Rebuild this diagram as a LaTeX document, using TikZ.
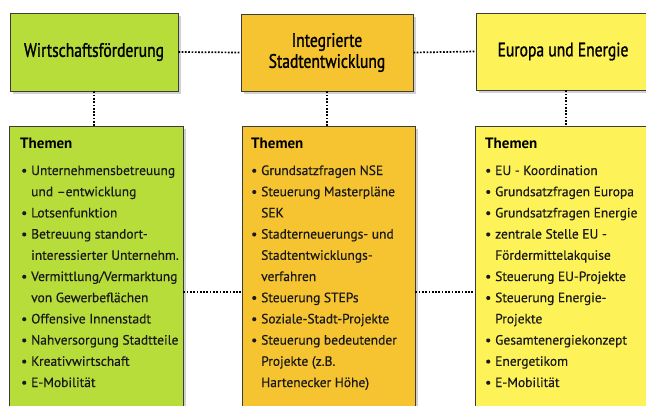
\documentclass[tikz,border=0pt]{standalone}
\usepackage{fontspec}
\setmainfont{PT Sans}
\newfontfamily\titlefont{PT Sans}[FakeStretch=0.8, FakeBold=1.2]
\newfontfamily\itemfont{PT Sans}[FakeBold=0.4]
\usetikzlibrary{shadows}
\definecolor{wfgreen}{RGB}{183,221,58}
\definecolor{isorange}{RGB}{245,196,48}
\definecolor{euyellow}{RGB}{253,243,88}
\definecolor{frame}{RGB}{60,60,60}
% one list entry: bullet plus text, and a continuation line
\newcommand\entry[1]{\makebox[10pt][l]{\textbullet}#1\\}
\newcommand\more[1]{\hspace*{10pt}#1\\}
\tikzset{
  box/.style={draw=frame, line width=0.7pt, inner sep=0pt,
    drop shadow={shadow xshift=2.5pt, shadow yshift=-2.5pt, fill=black!18, opacity=1}},
  headtext/.style={font=\titlefont\fontsize{19.5}{21}\selectfont, align=center, text=black},
  themen/.style={font=\bfseries\fontsize{15}{18}\selectfont, anchor=base west, inner sep=0pt},
  items/.style={font=\itemfont\fontsize{13.5}{21.2}\selectfont, anchor=base west, inner sep=0pt, text=black!90},
  link/.style={line width=1.7pt, dash pattern=on 1.7pt off 1.6pt}
}
\begin{document}
\begin{tikzpicture}[x=1pt,y=-1pt]
\useasboundingbox (0,0) rectangle (646,405);
\clip (0,0) rectangle (646,405);
\fill[white] (0,0) rectangle (646,405);

% head boxes
\node[box, fill=wfgreen, minimum width=168pt, minimum height=78pt] (t1) at (94,52) {};
\node[box, fill=isorange, minimum width=172pt, minimum height=77pt] (t2) at (327,52.5) {};
\node[box, fill=euyellow, minimum width=180pt, minimum height=77pt] (t3) at (566,51.5) {};
\node[headtext] (h1) at (t1) {Wirtschaftsförderung};
\node[headtext] (h2) at (t2) {Integrierte\\Stadtentwicklung};
\node[headtext, xshift=-3pt] (h3) at (t3) {Europa und Energie};

% theme boxes
\node[box, fill=wfgreen, minimum width=174pt, minimum height=299pt] (l1) at (96,275.5) {};
\node[box, fill=isorange, minimum width=173pt, minimum height=299pt] (l2) at (328.5,275.5) {};
\node[box, fill=euyellow, minimum width=185pt, minimum height=299pt] (l3) at (567.5,275.5) {};

% dotted links
\draw[link] (t1.east) -- (t2.west);
\draw[link] (t2.east) -- (t3.west);
\draw[link] (t1.south) -- (t1.south |- l1.north);
\draw[link] (t2.south) -- (t2.south |- l2.north);
\draw[link] (t3.south) -- (t3.south |- l3.north);
\draw[link] ([yshift=-16.5pt]l1.east) -- ([yshift=-16.5pt]l2.west);
\draw[link] ([yshift=-16.5pt]l2.east) -- ([yshift=-16.5pt]l3.west);

% theme lists
\node[themen] (th1) at (20,148) {Themen};
\node[themen] (th2) at (251,148) {Themen};
\node[themen] (th3) at (485,148) {Themen};

\node[items] (i1) at (21,175) {\begin{tabular}[t]{@{}l@{}}
\entry{Unternehmensbetreuung}
\more{und –entwicklung}
\entry{Lotsenfunktion}
\entry{Betreuung standort-}
\more{interessierter Unternehm.}
\entry{Vermittlung/Vermarktung}
\more{von Gewerbeflächen}
\entry{Offensive Innenstadt}
\entry{Nahversorgung Stadtteile}
\entry{Kreativwirtschaft}
\entry{E-Mobilität}
\end{tabular}};

\node[items] (i2) at (251,175) {\begin{tabular}[t]{@{}l@{}}
\entry{Grundsatzfragen NSE}
\entry{Steuerung Masterpläne}
\more{SEK}
\entry{Stadterneuerungs- und}
\more{Stadtentwicklungs-}
\more{verfahren}
\entry{Steuerung STEPs}
\entry{Soziale-Stadt-Projekte}
\entry{Steuerung bedeutender}
\more{Projekte (z.B.}
\more{Hartenecker Höhe)}
\end{tabular}};

\node[items] (i3) at (485,175) {\begin{tabular}[t]{@{}l@{}}
\entry{EU - Koordination}
\entry{Grundsatzfragen Europa}
\entry{Grundsatzfragen Energie}
\entry{zentrale Stelle EU -}
\more{Fördermittelakquise}
\entry{Steuerung EU-Projekte}
\entry{Steuerung Energie-}
\more{Projekte}
\entry{Gesamtenergiekonzept}
\entry{Energetikom}
\entry{E-Mobilität}
\end{tabular}};
\end{tikzpicture}
\end{document}
